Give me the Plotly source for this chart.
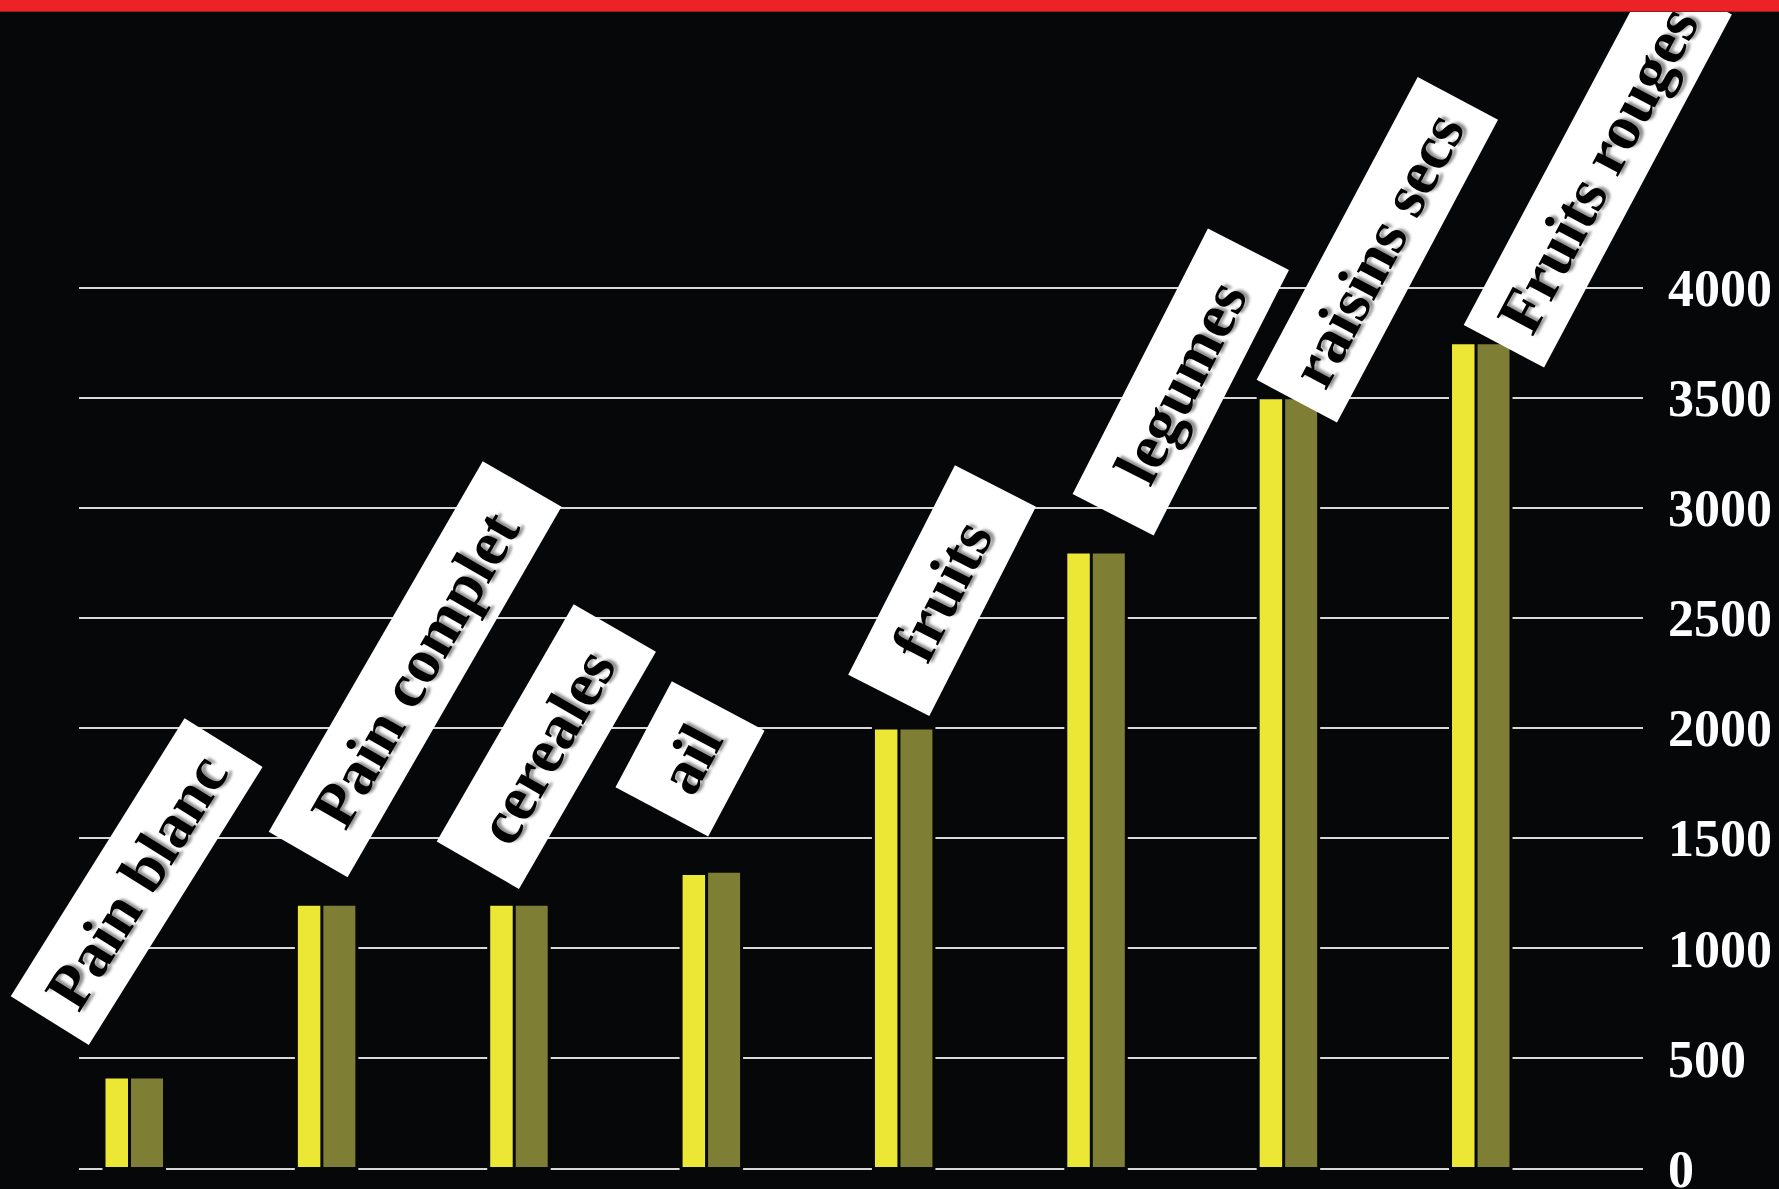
import plotly.graph_objects as go

# ---------------- data ----------------
categories = ["Pain blanc", "Pain complet", "cereales", "ail", "fruits",
              "legumes", "raisins secs", "Fruits rouges"]
serie_jaune = [415, 1200, 1200, 1340, 2000, 2800, 3500, 3750]
serie_olive = [415, 1200, 1200, 1350, 2000, 2800, 3500, 3750]
tick_values = [0, 500, 1000, 1500, 2000, 2500, 3000, 3500, 4000]
tick_labels = ["0", "500", "1000", "1500", "2000", "2500", "3000", "3500", "4000"]

# ---------------- layout constants (pixels) ----------------
W, H = 1779, 1189
BG = "#060709"
YELLOW = "#ECE734"
OLIVE = "#7E7E35"
RED = "#EC2326"

plot_left, plot_right = 79, 1643
cat_px = 192.36            # px per category
first_center = 134.5       # px of first category centre
y0_px = 1168.5             # px of value 0
px_per_val = 880.8 / 4000  # px per unit value

x_range = [(plot_left - first_center) / cat_px, (plot_right - first_center) / cat_px]
y_range = [(y0_px - H) / px_per_val, y0_px / px_per_val]

# bar geometry in px relative to category centre (rect incl. outline)
lw = 3
yel_off, yel_w = -30.5, 26.5
oli_off, oli_w = -5.0, 35.0

fig = go.Figure()
xs = list(range(len(categories)))
fig.add_trace(go.Bar(
    x=xs, y=serie_jaune, offset=yel_off / cat_px, width=yel_w / cat_px,
    marker=dict(color=YELLOW, line=dict(color=BG, width=lw)),
    hoverinfo="skip", showlegend=False))
fig.add_trace(go.Bar(
    x=xs, y=serie_olive, offset=oli_off / cat_px, width=oli_w / cat_px,
    marker=dict(color=OLIVE, line=dict(color=BG, width=lw)),
    hoverinfo="skip", showlegend=False))

# label boxes: centre offset (px) from (category, bar top), box length, box height, angle
label_style = [
    (2, 195, 328, 92, 58),
    (88, 235, 428, 91, 60),
    (27, 158, 274, 95, 60),
    (-22, 112, 120, 105, 62),
    (38, 138, 235, 91, 63),
    (85, 170, 298, 91, 63),
    (89, 148, 343, 91, 62),
    (117, 173, 400, 91, 62),
]

annotations = []
for i, (cat, st) in enumerate(zip(categories, label_style)):
    dx, dy, L, S, ang = st
    top = max(serie_jaune[i], serie_olive[i])
    annotations.append(dict(
        x=i, y=top, xref="x", yref="y",
        xshift=dx, yshift=dy, xanchor="center", yanchor="middle",
        text=cat, showarrow=False, textangle=-ang,
        width=L, height=S, align="center", valign="middle",
        bgcolor="white", borderpad=0, borderwidth=0,
        font=dict(family="Liberation Serif", size=63, color="black",
                  weight="bold", shadow="3px 3px 3px rgba(0,0,0,0.45)"),
    ))

# red band at the very top, drawn above everything
page_center_paper = (W / 2 - plot_left) / (plot_right - plot_left)
annotations.append(dict(
    x=page_center_paper, y=1, xref="paper", yref="paper",
    xanchor="center", yanchor="top", text=" ", showarrow=False,
    width=W + 40, height=11, bgcolor=RED, borderpad=0, borderwidth=0,
    font=dict(size=1)))
annotations.append(dict(
    x=page_center_paper, y=1, xref="paper", yref="paper", yshift=-11,
    xanchor="center", yanchor="top", text=" ", showarrow=False,
    width=W + 40, height=1, bgcolor="#9a1a1c", borderpad=0, borderwidth=0,
    font=dict(size=1)))

fig.update_layout(
    width=W, height=H, autosize=False,
    margin=dict(l=plot_left, r=W - plot_right, t=0, b=0, pad=0, autoexpand=False),
    paper_bgcolor=BG, plot_bgcolor=BG,
    barmode="overlay",
    xaxis=dict(range=x_range, showgrid=False, zeroline=False, showticklabels=False,
               showline=False, fixedrange=True, automargin=False),
    yaxis=dict(range=y_range, side="right", showgrid=True, gridcolor="#d8d8d8",
               gridwidth=2, zeroline=False, showline=False, automargin=False,
               tickvals=tick_values, ticktext=tick_labels, ticks="",
               ticklabelstandoff=24, ticklabeloverflow="allow",
               tickfont=dict(family="Liberation Serif", size=52, color="white",
                             weight="bold")),
    annotations=annotations,
)

fig.write_html("out.html")
